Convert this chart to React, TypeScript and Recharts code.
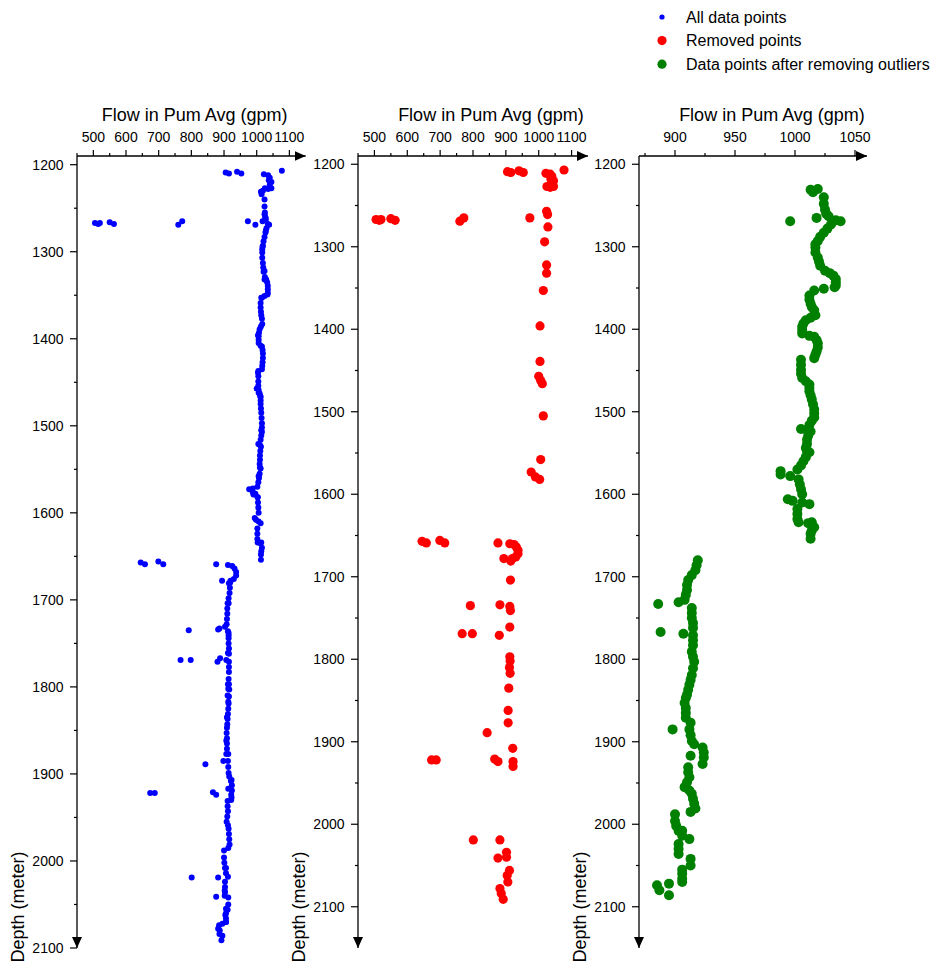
import { ScatterChart, Scatter, XAxis, YAxis } from 'recharts';

// [flow (gpm), depth (m)]
const keptUpper: [number, number][] = [
  [1015, 1234], [1013, 1231], [1019, 1230], [1024, 1240], [1024, 1248], [1025, 1255],
  [1026, 1260], [1028, 1263], [1034, 1268], [1038, 1269], [996, 1269], [1018, 1265],
  [1030, 1273], [1027, 1278], [1024, 1283], [1021, 1288], [1019, 1293], [1017, 1297],
  [1017, 1301], [1017, 1307], [1019, 1313], [1020, 1318], [1021, 1323], [1025, 1329],
  [1029, 1332], [1032, 1335], [1034, 1339], [1034, 1343], [1034, 1347], [1033, 1349],
  [1024, 1351], [1016, 1353], [1012, 1359], [1012, 1364], [1013, 1369], [1014, 1373],
  [1016, 1377], [1017, 1383], [1013, 1386], [1009, 1389], [1007, 1393], [1006, 1397],
  [1006, 1401], [1006, 1405], [1012, 1408], [1016, 1409], [1018, 1413], [1019, 1417],
  [1019, 1422], [1018, 1427], [1017, 1431], [1016, 1435], [1005, 1437], [1005, 1443],
  [1005, 1449], [1005, 1454], [1006, 1459], [1009, 1463], [1012, 1467], [1012, 1471],
  [1012, 1475], [1013, 1480], [1014, 1485], [1015, 1491], [1016, 1497], [1016, 1502],
  [1016, 1507], [1014, 1511], [1012, 1516], [1005, 1521], [1010, 1522], [1013, 1524],
  [1011, 1529], [1010, 1534], [1010, 1539], [1009, 1544], [1010, 1548], [1012, 1549],
  [1009, 1555], [1007, 1560], [1005, 1565], [1002, 1570], [988, 1572], [988, 1576],
  [996, 1578], [1003, 1582], [1004, 1588], [1005, 1594], [1006, 1600], [994, 1606],
  [998, 1608], [1006, 1610], [1012, 1612], [1002, 1618], [1002, 1624], [1002, 1630],
  [1003, 1634], [1014, 1634], [1011, 1635], [1016, 1640], [1014, 1644], [1013, 1648],
  [1013, 1654],
];

const keptLower: [number, number][] = [
  [919, 1680], [918, 1686], [917, 1692], [914, 1698], [911, 1704], [910, 1710],
  [910, 1716], [909, 1722], [908, 1728], [903, 1731], [886, 1733], [914, 1738],
  [914, 1744], [914, 1750], [915, 1756], [915, 1762], [888, 1767], [907, 1769],
  [915, 1771], [915, 1777], [915, 1783], [914, 1791], [915, 1797], [916, 1803],
  [915, 1811], [914, 1819], [913, 1825], [912, 1831], [911, 1837], [910, 1843],
  [909, 1847], [908, 1853], [909, 1859], [909, 1865], [909, 1871], [913, 1877],
  [898, 1885], [912, 1885], [913, 1892], [914, 1899], [916, 1903], [923, 1907],
  [924, 1913], [924, 1919], [923, 1927], [913, 1917], [911, 1931], [911, 1937],
  [912, 1943], [910, 1949], [908, 1955], [912, 1959], [914, 1963], [915, 1969],
  [916, 1975], [917, 1981], [913, 1985], [900, 1988], [900, 1996], [901, 2002],
  [903, 2008], [906, 2008], [906, 2014], [912, 2018], [903, 2024], [903, 2030],
  [903, 2036], [913, 2042], [913, 2050], [906, 2055], [906, 2060], [906, 2066],
  [906, 2070], [895, 2072], [885, 2074], [887, 2080], [895, 2086],
];

const removedTop: [number, number][] = [
  [505, 1267], [515, 1268], [520, 1267], [550, 1266], [563, 1268], [760, 1269],
  [772, 1265], [905, 1209], [915, 1210], [940, 1208], [953, 1210], [1077, 1207],
  [973, 1265], [1022, 1211], [1035, 1212], [1040, 1215], [1037, 1218], [1045, 1220],
  [1040, 1223], [1025, 1227], [1035, 1228], [1045, 1227], [1024, 1257], [1027, 1261],
  [1028, 1276], [1018, 1294], [1024, 1322], [1024, 1332], [1014, 1353], [1004, 1396],
  [1004, 1439], [1000, 1457], [1006, 1462], [1011, 1466], [1014, 1505], [1006, 1558],
  [977, 1573], [990, 1579], [1003, 1582],
];

const removedLower: [number, number][] = [
  [645, 1657], [658, 1659], [699, 1656], [714, 1659], [876, 1659], [912, 1660],
  [925, 1661], [932, 1664], [937, 1668], [937, 1672], [930, 1676], [920, 1678],
  [915, 1681], [894, 1678], [914, 1704], [792, 1735], [882, 1734], [912, 1736],
  [914, 1741], [767, 1769], [798, 1769], [880, 1771], [912, 1761], [912, 1797],
  [913, 1802], [911, 1810], [913, 1817], [909, 1835], [907, 1862], [907, 1877],
  [843, 1889], [921, 1908], [674, 1922], [688, 1922], [866, 1921], [876, 1924],
  [922, 1924], [922, 1930], [801, 2019], [882, 2019], [902, 2034], [902, 2040],
  [876, 2041], [911, 2056], [904, 2062], [906, 2070], [882, 2078], [886, 2084],
  [892, 2091],
];

const seriesNames = ['All data points', 'Removed points', 'Data points after removing outliers'];
const seriesColors = ['#0000ff', '#ff0000', '#008000'];

const flowTicksWide = [450, 500, 550, 600, 650, 700, 750, 800, 850, 900, 950, 1000, 1050, 1100];
const flowLabelsWide = [500, 600, 700, 800, 900, 1000, 1100];
const flowTicksNarrow = [875, 900, 925, 950, 975, 1000, 1025, 1050];
const flowLabelsNarrow = [900, 950, 1000, 1050];
const depthTicks = [1200, 1250, 1300, 1350, 1400, 1450, 1500, 1550, 1600, 1650, 1700, 1750,
  1800, 1850, 1900, 1950, 2000, 2050, 2100];
const depthLabels = [1200, 1300, 1400, 1500, 1600, 1700, 1800, 1900, 2000, 2100];

const toRows = (pts: [number, number][]) => pts.map(([flow, depth]) => ({ flow, depth }));
const kept = toRows([...keptUpper, ...keptLower]);
const removed = toRows([...removedTop, ...removedLower]);
const all = [...kept, ...removed];

const FONT = "Arial, 'Liberation Sans', sans-serif";

const xTick = (labels: number[]) => (props: any) => {
  const { x, y, payload } = props;
  const major = labels.includes(payload.value);
  return (
    <g>
      <line x1={x} x2={x} y1={y} y2={y - (major ? 6 : 3)} stroke="#000" strokeWidth={1.2} />
      {major && (
        <text x={x} y={y - 14.3} textAnchor="middle" fontSize={14} fontFamily={FONT} fill="#000">
          {payload.value}
        </text>
      )}
    </g>
  );
};

const yTick = (labels: number[]) => (props: any) => {
  const { x, y, payload } = props;
  const major = labels.includes(payload.value);
  return (
    <g>
      <line x1={x} x2={x - (major ? 7 : 3)} y1={y} y2={y} stroke="#000" strokeWidth={1.2} />
      {major && (
        <text x={x - 13.5} y={y + 5} textAnchor="end" fontSize={14} fontFamily={FONT} fill="#000">
          {payload.value}
        </text>
      )}
    </g>
  );
};

const dot = (r: number, fill: string) => (p: any) => <circle cx={p.cx} cy={p.cy} r={r} fill={fill} />;

interface Panel {
  id: string;
  left: number;
  width: number;
  mLeft: number;
  mRight: number;
  xDomain: [number, number];
  yDomain: [number, number];
  xTicks: number[];
  xLabels: number[];
  titleX: number;
  yTitleX: number;
  series: { data: { flow: number; depth: number }[]; r: number; color: string }[];
}

const panels: Panel[] = [
  {
    id: 'p1', left: 0, width: 310, mLeft: 17, mRight: 4.3,
    xDomain: [450, 1150], yDomain: [1190, 2100], xTicks: flowTicksWide, xLabels: flowLabelsWide,
    titleX: 194.6, yTitleX: 24,
    series: [{ data: all, r: 3, color: seriesColors[0] }],
  },
  {
    id: 'p2', left: 290, width: 300, mLeft: 8, mRight: 2,
    xDomain: [450, 1150], yDomain: [1190, 2150], xTicks: flowTicksWide, xLabels: flowLabelsWide,
    titleX: 491, yTitleX: 305,
    series: [{ data: removed, r: 4.6, color: seriesColors[1] }],
  },
  {
    id: 'p3', left: 575, width: 300, mLeft: 4, mRight: 8,
    xDomain: [870, 1060], yDomain: [1190, 2150], xTicks: flowTicksNarrow, xLabels: flowLabelsNarrow,
    titleX: 772, yTitleX: 586,
    series: [{ data: kept, r: 5, color: seriesColors[2] }],
  },
];

function PanelChart({ p }: { p: Panel }) {
  const axisLine = { stroke: '#000', strokeWidth: 1.3, markerEnd: `url(#arrow-${p.id})` };
  return (
    <div style={{ position: 'absolute', left: p.left, top: 0 }}>
      <ScatterChart width={p.width} height={962}
        margin={{ top: 116, right: p.mRight, bottom: 14, left: p.mLeft }}>
        <defs>
          <marker id={`arrow-${p.id}`} viewBox="0 0 11 10" refX={11} refY={5}
            markerWidth={11} markerHeight={10} markerUnits="userSpaceOnUse" orient="auto">
            <path d="M0,0 L11,5 L0,10 z" fill="#000" />
          </marker>
        </defs>
        <XAxis type="number" dataKey="flow" orientation="top" height={40}
          domain={p.xDomain} allowDataOverflow ticks={p.xTicks} interval={0}
          tickSize={0} tickMargin={0} tickLine={false} axisLine={axisLine}
          tick={xTick(p.xLabels)} />
        <YAxis type="number" dataKey="depth" reversed width={60}
          domain={p.yDomain} allowDataOverflow ticks={depthTicks} interval={0}
          tickSize={0} tickMargin={0} tickLine={false} axisLine={axisLine}
          tick={yTick(depthLabels)} />
        {p.series.map((s, i) => (
          <Scatter key={i} data={s.data} shape={dot(s.r, s.color)} isAnimationActive={false} />
        ))}
      </ScatterChart>
    </div>
  );
}

export default function App() {
  const legendR = [2.6, 4.6, 4.6];
  return (
    <div style={{ position: 'absolute', left: 0, top: 0, width: 937, height: 962, background: '#fff', overflow: 'hidden' }}>
      {panels.map(p => <PanelChart key={p.id} p={p} />)}
      <svg width={937} height={962} style={{ position: 'absolute', left: 0, top: 0, pointerEvents: 'none' }}>
        {panels.map(p => (
          <g key={p.id} fontFamily={FONT} fontSize={18} fill="#000">
            <text x={p.titleX} y={121} textAnchor="middle">Flow in Pum Avg (gpm)</text>
            <text x={p.yTitleX} y={907} textAnchor="middle" transform={`rotate(-90 ${p.yTitleX} 907)`}>
              Depth (meter)
            </text>
          </g>
        ))}
        {seriesNames.map((name, i) => (
          <g key={name}>
            <circle cx={662} cy={17 + i * 23.6} r={legendR[i]} fill={seriesColors[i]} />
            <text x={686} y={22.5 + i * 23.6} fontSize={16} fontFamily={FONT} fill="#000">{name}</text>
          </g>
        ))}
      </svg>
    </div>
  );
}
